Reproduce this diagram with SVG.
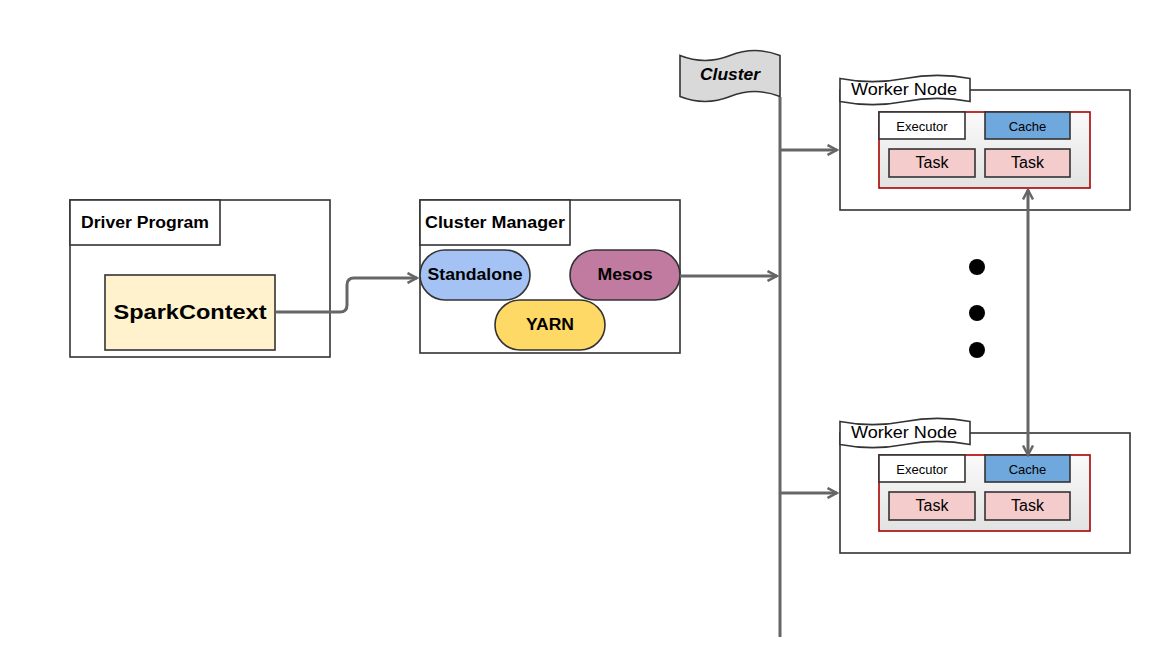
<svg xmlns="http://www.w3.org/2000/svg" width="1150" height="663" viewBox="0 0 1150 663">
<style>
.box{fill:#fff;stroke:#333;stroke-width:1.6}
.t{font-family:"Liberation Sans",Arial,sans-serif;fill:#000;text-anchor:middle}
.b{font-weight:bold}
.conn{fill:none;stroke:#666;stroke-width:3}
.pill{stroke:#333;stroke-width:1.6}
.exec{fill:url(#g);stroke:#a00;stroke-width:1.6}
.task{fill:#f4cccc;stroke:#333;stroke-width:1.6}
</style>
<defs>
<linearGradient id="g" x1="0" y1="0" x2="0" y2="1"><stop offset="0" stop-color="#fafafa"/><stop offset="1" stop-color="#e2e2e2"/></linearGradient>
<marker id="arr" viewBox="0 0 12 12" markerWidth="12" markerHeight="12" refX="10.5" refY="6" orient="auto-start-reverse" markerUnits="userSpaceOnUse"><path d="M1,1 L10.5,6 L1,11" fill="none" stroke="#666" stroke-width="2.5"/></marker>
<g id="workerTpl">
<rect class="box" x="840" y="90" width="290" height="120"/>
<path class="box" d="M840,78.5 Q872.5,84.8 905,78.5 Q937.5,72.2 970,78.5 L970,101.5 Q937.5,95.2 905,101.5 Q872.5,107.8 840,101.5 Z"/>
<text class="t" x="904" y="95" font-size="17" textLength="106" lengthAdjust="spacingAndGlyphs">Worker Node</text>
<rect class="exec" x="879" y="112" width="211" height="76"/>
<rect class="box" x="879" y="112" width="86" height="27"/>
<text class="t" x="922" y="131" font-size="13" fill="#222">Executor</text>
<rect x="985" y="112" width="85" height="27" fill="#6fa8dc" stroke="#333" stroke-width="1.6"/>
<text class="t" x="1027.5" y="131" font-size="13">Cache</text>
<rect class="task" x="889" y="149" width="86" height="28"/>
<text class="t" x="932" y="168" font-size="16">Task</text>
<rect class="task" x="985" y="149" width="85" height="28"/>
<text class="t" x="1027.5" y="168" font-size="16">Task</text>
</g>
</defs>
<rect width="1150" height="663" fill="#fff"/>

<g id="driver">
<rect class="box" x="70" y="200" width="260" height="157"/>
<rect class="box" x="70" y="200" width="150" height="45"/>
<text class="t b" x="145" y="228" font-size="16" textLength="128" lengthAdjust="spacingAndGlyphs">Driver Program</text>
</g>
<g id="sparkcontext">
<rect x="105" y="275" width="170" height="75" fill="#fff2cc" stroke="#333" stroke-width="1.6"/>
<text class="t b" x="190" y="319" font-size="20" textLength="153" lengthAdjust="spacingAndGlyphs">SparkContext</text>
</g>

<g id="clustermanager">
<rect class="box" x="420" y="200" width="260" height="153"/>
<rect class="box" x="420" y="200" width="150" height="45"/>
<text class="t b" x="495" y="228" font-size="16" textLength="140" lengthAdjust="spacingAndGlyphs">Cluster Manager</text>
</g>
<g id="standalone">
<rect class="pill" x="420" y="250" width="110" height="50" rx="25" fill="#a4c2f4"/>
<text class="t b" x="475" y="280" font-size="16" textLength="95" lengthAdjust="spacingAndGlyphs">Standalone</text>
</g>
<g id="mesos">
<rect class="pill" x="570" y="250" width="110" height="50" rx="25" fill="#c27ba0"/>
<text class="t b" x="625" y="280" font-size="16" textLength="55" lengthAdjust="spacingAndGlyphs">Mesos</text>
</g>
<g id="yarn">
<rect class="pill" x="495" y="300" width="110" height="50" rx="25" fill="#ffd966"/>
<text class="t b" x="550" y="330" font-size="16" textLength="48" lengthAdjust="spacingAndGlyphs">YARN</text>
</g>

<g id="cluster">
<path d="M680,55.5 Q705,65.4 730,55.5 Q755,45.6 780,55.5 L780,96.5 Q755,86.6 730,96.5 Q705,106.4 680,96.5 Z" fill="#d9d9d9" stroke="#333" stroke-width="1.6"/>
<text class="t b" x="730" y="80" font-size="16" font-style="italic" textLength="60" lengthAdjust="spacingAndGlyphs">Cluster</text>
</g>

<g id="worker1"><use href="#workerTpl"/></g>
<g id="worker2" transform="translate(0,343)"><use href="#workerTpl"/></g>

<g id="dots" fill="#000">
<circle cx="977" cy="267" r="8"/>
<circle cx="977" cy="313" r="8"/>
<circle cx="977" cy="350" r="8"/>
</g>

<g id="connectors">
<line class="conn" x1="780" y1="97" x2="780" y2="637"/>
<path class="conn" d="M275,312 H340 Q347,312 347,305 V285 Q347,278 354,278 H417" marker-end="url(#arr)"/>
<path class="conn" d="M680,276 H777" marker-end="url(#arr)"/>
<path class="conn" d="M781,150 H837" marker-end="url(#arr)"/>
<path class="conn" d="M781,493 H837" marker-end="url(#arr)"/>
<path class="conn" d="M1028,190 V455" marker-start="url(#arr)" marker-end="url(#arr)"/>
</g>
</svg>
